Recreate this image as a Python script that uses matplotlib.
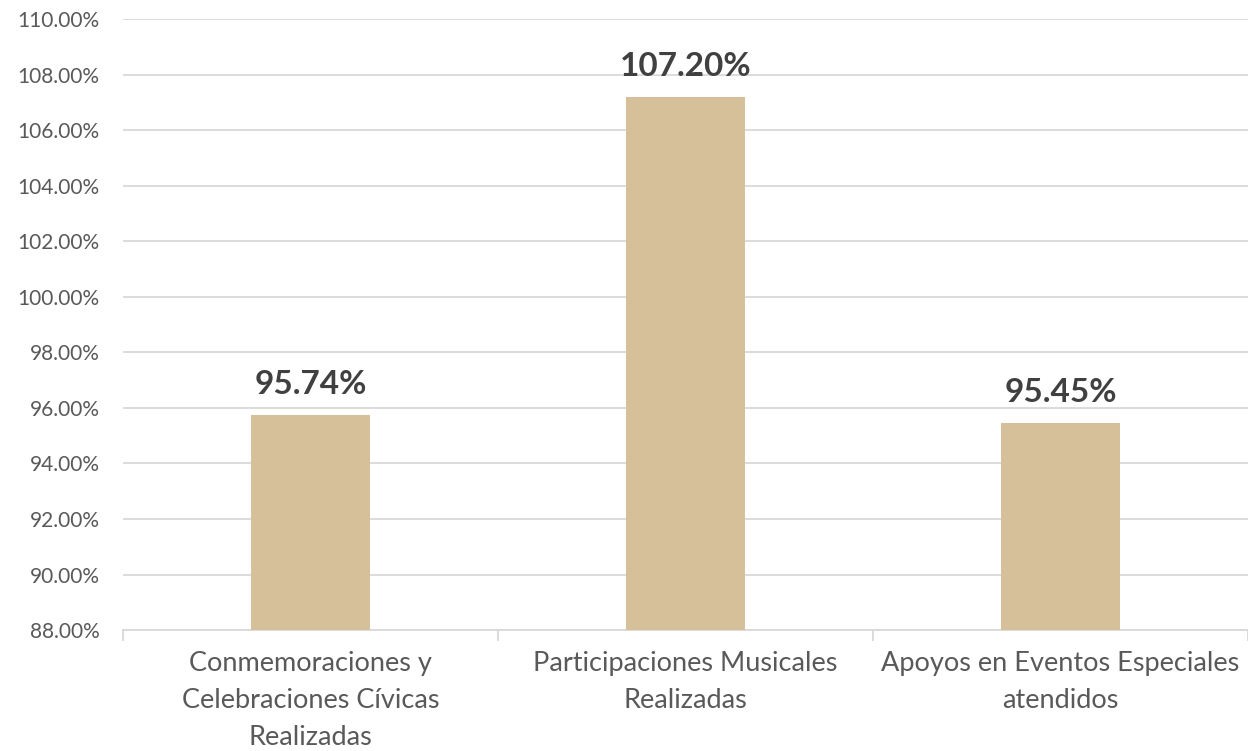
import matplotlib.pyplot as plt
import numpy as np
from matplotlib.ticker import FuncFormatter, FixedLocator

categories = ["Conmemoraciones y\nCelebraciones Cívicas\nRealizadas",
              "Participaciones Musicales\nRealizadas",
              "Apoyos en Eventos Especiales\natendidos"]
values = [95.74, 107.20, 95.45]
value_labels = ["95.74%", "107.20%", "95.45%"]

plt.rcParams['font.family'] = ['Lato', 'DejaVu Sans']

fig = plt.figure(figsize=(12.48, 7.51), dpi=100)
ax = fig.add_axes([0.0986, 0.161, 0.9014, 0.8137])

x = np.arange(len(categories))
ax.bar(x, values, width=0.316, color="#D5C09A", zorder=3)
ax.set_ylim(88, 110)
ax.set_xlim(-0.5, 2.5)
ax.set_yticks(np.arange(88, 110.1, 2))
ax.yaxis.set_major_formatter(FuncFormatter(lambda v, p: f"{v:.2f}%"))
ax.grid(axis="y", color="#D9D9D9", linewidth=1.3, zorder=0)

for s in ["top", "right", "left"]:
    ax.spines[s].set_visible(False)
ax.spines["bottom"].set_color("#D9D9D9")
ax.spines["bottom"].set_linewidth(1.3)

ax.tick_params(axis="y", length=0, labelsize=15, labelcolor="#595959", pad=17)
ax.set_xticks(x)
ax.set_xticklabels(categories, fontsize=19.5, color="#595959", linespacing=1.6)
ax.tick_params(axis="x", length=0, pad=15)
ax.xaxis.set_minor_locator(FixedLocator([-0.5, 0.5, 1.5, 2.5]))
ax.tick_params(axis="x", which="minor", length=8, color="#D9D9D9", width=1.3)

for xi, v, lab in zip(x, values, value_labels):
    ax.annotate(lab, (xi, v), xytext=(0, 15), textcoords="offset points",
                ha="center", va="baseline", fontsize=24, fontweight="bold",
                color="#404040")

fig.savefig("out.png", dpi=100)
